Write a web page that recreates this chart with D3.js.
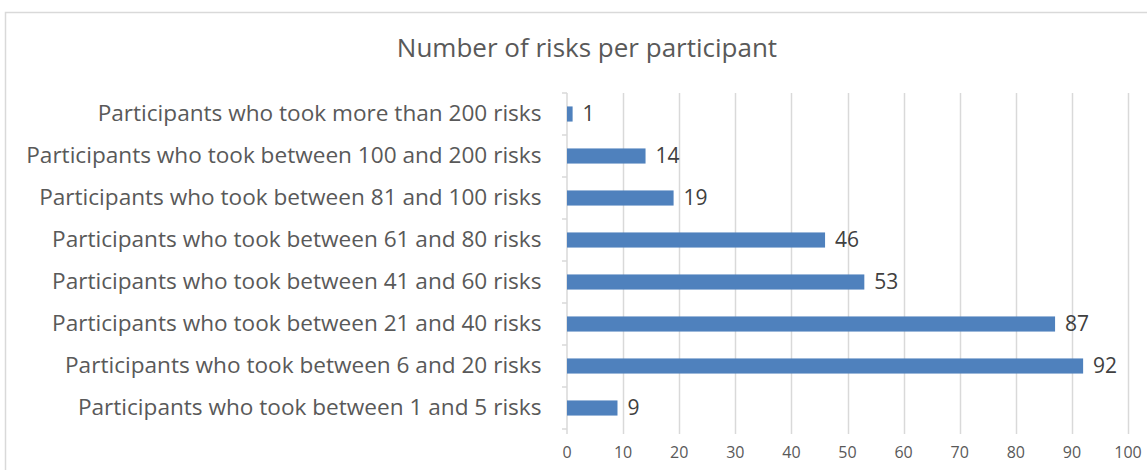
<!DOCTYPE html>
<html><head><meta charset="utf-8">
<script src="https://cdn.jsdelivr.net/npm/d3@7"></script>
<style>body{margin:0;background:#fff;}svg{display:block;}</style>
</head><body>
<svg id="c" width="1147" height="470"></svg>
<script>
const title = "Number of risks per participant";
const categories = [
  "Participants who took more than 200 risks",
  "Participants who took between 100 and 200 risks",
  "Participants who took between 81 and 100 risks",
  "Participants who took between 61 and 80 risks",
  "Participants who took between 41 and 60 risks",
  "Participants who took between 21 and 40 risks",
  "Participants who took between 6 and 20 risks",
  "Participants who took between 1 and 5 risks"
];
const values = [1, 14, 19, 46, 53, 87, 92, 9];
const xTicks = [0,10,20,30,40,50,60,70,80,90,100];

const svg = d3.select("#c");
const font = "'Open Sans', Lato, sans-serif";
const txt = "#595959";

// chart border
svg.append("rect").attr("x",5.5).attr("y",12.5).attr("width",1160).attr("height",480)
  .attr("fill","none").attr("stroke","#D9D9D9").attr("stroke-width",1.5);

const x = d3.scaleLinear().domain([0,100]).range([567,1128]);
const y = d3.scaleBand().domain(categories).range([93,429]).paddingInner(0.64).paddingOuter(0.32);

// gridlines
svg.append("g").selectAll("line").data(xTicks.slice(1)).join("line")
  .attr("x1",d=>Math.round(x(d))+0.5).attr("x2",d=>Math.round(x(d))+0.5)
  .attr("y1",93).attr("y2",434)
  .attr("stroke","#D9D9D9").attr("stroke-width",1.5);

// category axis
const ya = svg.append("g").attr("transform",`translate(${Math.round(x(0))+0.5},0)`)
  .call(d3.axisLeft(y).tickSize(0).tickPadding(26));
ya.select(".domain").remove();
ya.selectAll("text").attr("font-family",font).attr("font-size","22.6px").attr("fill",txt);
svg.append("line").attr("x1",x(0)).attr("x2",x(0)).attr("y1",93).attr("y2",434)
  .attr("stroke","#D9D9D9").attr("stroke-width",1.5);
const bounds = d3.range(categories.length+1).map(i=>93+i*(336/categories.length));
svg.append("g").selectAll("line").data(bounds).join("line")
  .attr("x1",x(0)-5).attr("x2",x(0)).attr("y1",d=>d).attr("y2",d=>d)
  .attr("stroke","#D9D9D9").attr("stroke-width",1.5);

// x tick labels
svg.append("g").selectAll("text").data(xTicks).join("text")
  .attr("x",d=>x(d)).attr("y",458).attr("text-anchor","middle")
  .attr("font-family",font).attr("font-size","16px").attr("fill",txt)
  .text(d=>d);

// bars
svg.append("g").selectAll("rect").data(values).join("rect")
  .attr("x",x(0)).attr("y",(d,i)=>y(categories[i]))
  .attr("width",d=>x(d)-x(0)).attr("height",y.bandwidth())
  .attr("fill","#4F81BD");

// value labels
svg.append("g").selectAll("text").data(values).join("text")
  .attr("x",d=>x(d)+10).attr("y",(d,i)=>y(categories[i])+y.bandwidth()/2)
  .attr("dy","0.35em").attr("font-family",font).attr("font-size","21px").attr("fill","#404040")
  .text(d=>d);

// title
svg.append("text").attr("x",587).attr("y",57).attr("text-anchor","middle")
  .attr("font-family",font).attr("font-size","26px").attr("fill",txt).text(title);
</script>
</body></html>
